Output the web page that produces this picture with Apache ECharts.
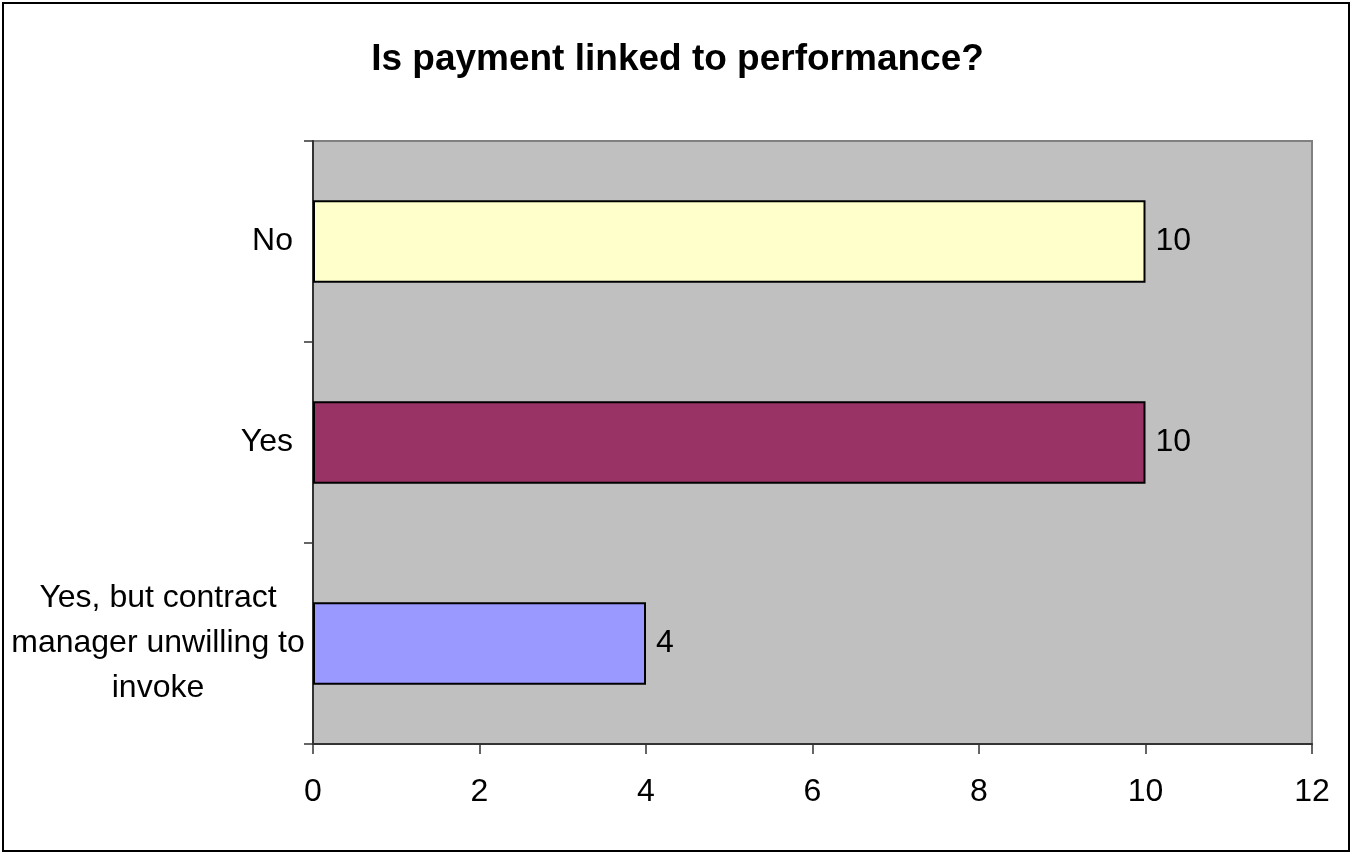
<!DOCTYPE html>
<html>
<head>
<meta charset="utf-8">
<script src="https://cdn.jsdelivr.net/npm/echarts@6/dist/echarts.min.js"></script>
<style>
  html, body { margin: 0; padding: 0; background: #fff; }
  #frame { position: absolute; left: 2px; top: 2px; width: 1348px; height: 850px; border: 2px solid #000; box-sizing: border-box; }
  #chart { position: absolute; left: 0; top: 0; width: 1355px; height: 856px; }
</style>
</head>
<body>
<div id="frame"></div>
<div id="chart"></div>
<script>
const titleText = "Is payment linked to performance?";
const categories = ["No", "Yes", "Yes, but contract manager unwilling to invoke"];
const values = [10, 10, 4];
const barColors = ["#FFFFCC", "#993366", "#9999FF"];
const xTicks = [0, 2, 4, 6, 8, 10, 12];

const font = "'Liberation Sans', Arial, sans-serif";

// wrap long category names the way the original does
const wrap = (s, max) => {
  const words = s.split(" ");
  const lines = [];
  let cur = "";
  words.forEach(w => {
    const next = cur ? cur + " " + w : w;
    if (next.length > max && cur) { lines.push(cur); cur = w; } else { cur = next; }
  });
  lines.push(cur);
  return lines;
};

const myChart = echarts.init(document.getElementById("chart"));
myChart.setOption({
  animation: false,
  backgroundColor: "transparent",
  textStyle: { fontFamily: font, color: "#000" },
  title: {
    text: titleText,
    left: "center",
    top: 36,
    textStyle: {
      fontFamily: font,
      fontWeight: "bold",
      fontSize: 37,
      color: "#000"
    }
  },
  grid: {
    left: 313, top: 141, right: 43, bottom: 112,
    show: true,
    backgroundColor: "#C0C0C0",
    borderColor: "#808080",
    borderWidth: 2
  },
  xAxis: {
    type: "value",
    min: xTicks[0],
    max: xTicks[xTicks.length - 1],
    interval: xTicks[1] - xTicks[0],
    splitLine: { show: false },
    axisLine: { show: true, lineStyle: { color: "#333", width: 2 } },
    axisTick: { show: true, length: 10, lineStyle: { color: "#333", width: 1.5 } },
    axisLabel: { fontSize: 32, color: "#000", margin: 32, fontFamily: font }
  },
  yAxis: {
    type: "category",
    inverse: true,
    data: categories,
    axisLine: { show: true, lineStyle: { color: "#333", width: 2 } },
    axisTick: { show: true, length: 9, lineStyle: { color: "#333", width: 1.5 } },
    axisLabel: {
      fontSize: 32,
      color: "#000",
      margin: 20,
      fontFamily: font,
      formatter(value) {
        if (value.length > 20) {
          return "{c|" + wrap(value, 20).join("\n") + "}";
        }
        return value;
      },
      rich: {
        c: { fontSize: 32, fontFamily: font, color: "#000", width: 270, align: "center", lineHeight: 45 }
      }
    }
  },
  series: [
    {
      type: "bar",
      data: values.map((v, i) => ({ value: v, itemStyle: { color: barColors[i] } })),
      barWidth: "41%",
      itemStyle: { borderColor: "#000", borderWidth: 2 },
      label: {
        show: true,
        position: "right",
        distance: 10,
        fontSize: 32,
        color: "#000",
        fontFamily: font
      }
    }
  ]
});
</script>
</body>
</html>
